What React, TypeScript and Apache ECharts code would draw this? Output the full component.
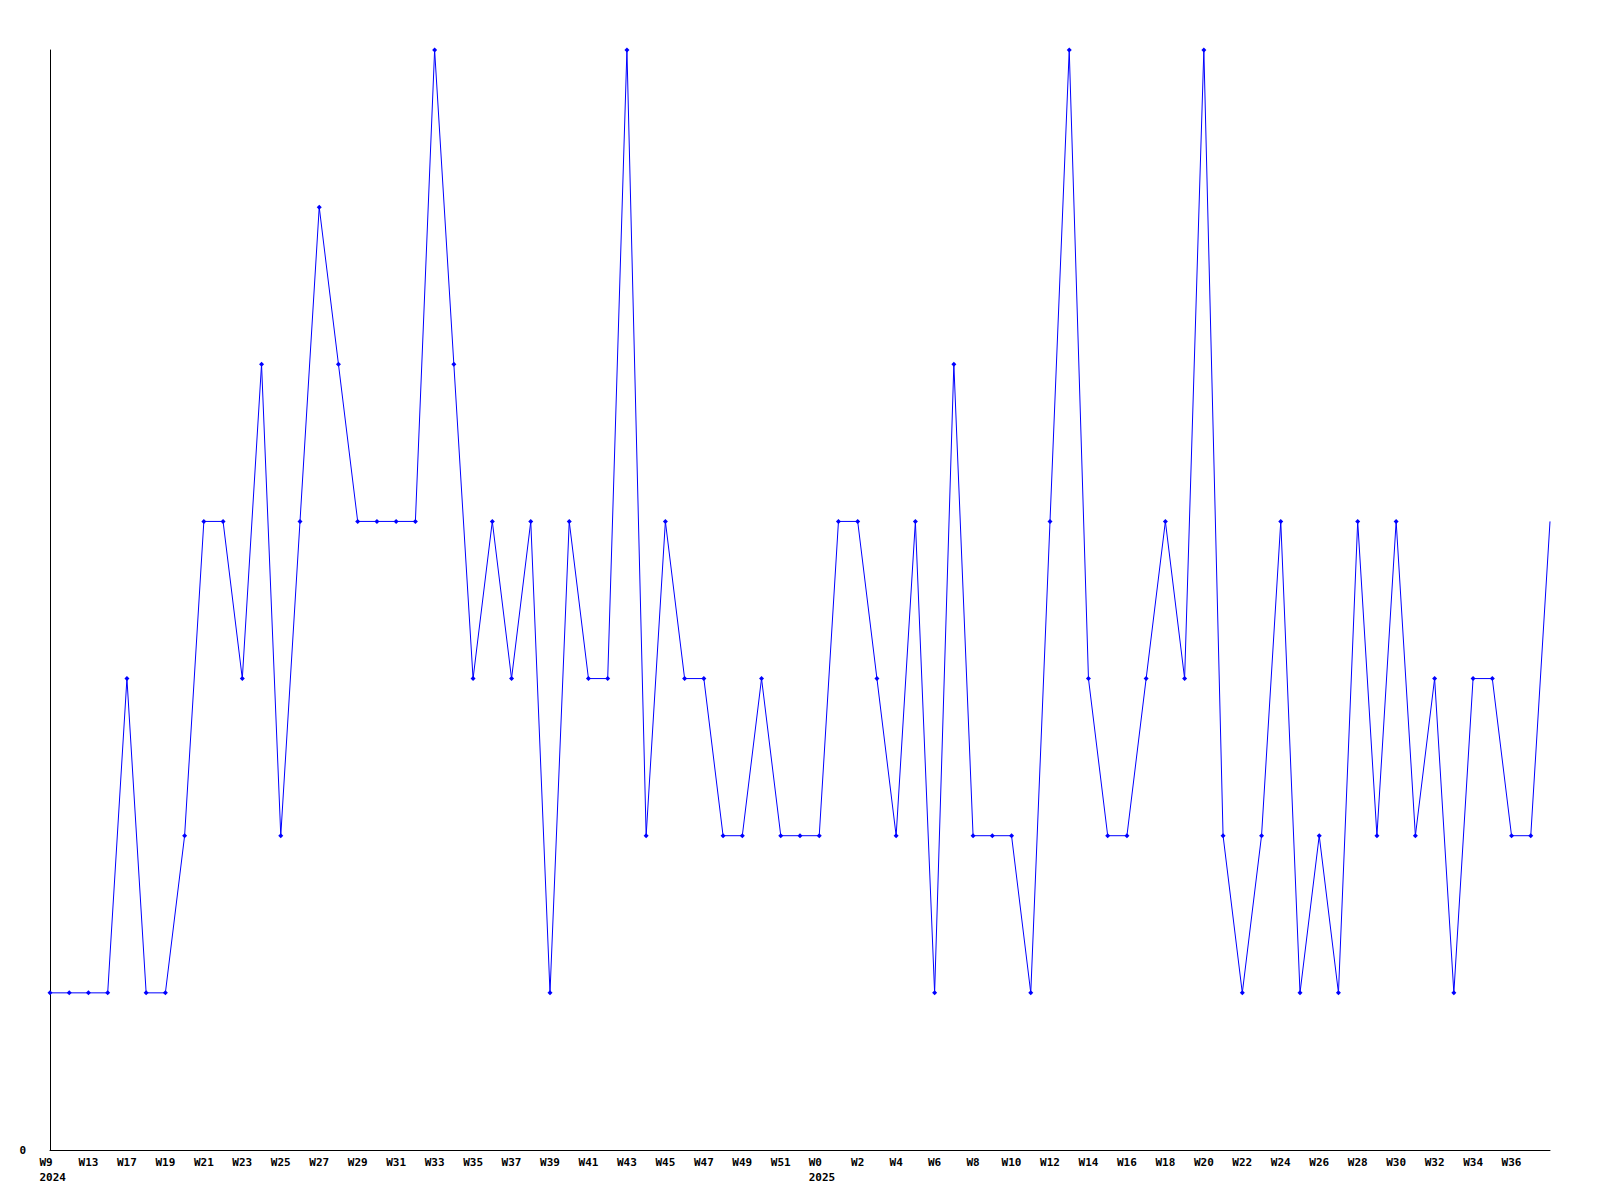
import React, { useEffect, useRef } from "react";
import * as echarts from "echarts";

const tickLabels = [
  "W9", "W13", "W17", "W19", "W21", "W23", "W25", "W27", "W29", "W31",
  "W33", "W35", "W37", "W39", "W41", "W43", "W45", "W47", "W49", "W51",
  "W0", "W2", "W4", "W6", "W8", "W10", "W12", "W14", "W16", "W18",
  "W20", "W22", "W24", "W26", "W28", "W30", "W32", "W34", "W36",
];
const yearLabels: Record<string, string> = { W9: "2024", W0: "2025" };

const values = [
  1, 1, 1, 1, 3, 1, 1, 2, 4, 4,
  3, 5, 2, 4, 6, 5, 4, 4, 4, 4,
  7, 5, 3, 4, 3, 4, 1, 4, 3, 3,
  7, 2, 4, 3, 3, 2, 2, 3, 2, 2,
  2, 4, 4, 3, 2, 4, 1, 5, 2, 2,
  2, 1, 4, 7, 3, 2, 2, 3, 4, 3,
  7, 2, 1, 2, 4, 1, 2, 1, 4, 2,
  4, 2, 3, 1, 3, 3, 2, 2, 4,
];

const yMin = 0;
const yMax = 7;

export default function App() {
  const ref = useRef<HTMLDivElement>(null);
  useEffect(() => {
    if (!ref.current) return;
    const chart = echarts.init(ref.current, undefined, { renderer: "svg" });
    const categories = values.map((_, i) => {
      if (i % 2 !== 0) return "";
      const lab = tickLabels[i / 2] ?? "";
      return yearLabels[lab] ? `{w|${lab}}\n{w|${yearLabels[lab]}}` : lab;
    });
    const data = values.map((v, i) =>
      i === values.length - 1 ? { value: v, symbol: "none" } : v
    );
    const font = "'DejaVu Sans Mono', monospace";
    chart.setOption({
      animation: false,
      backgroundColor: "#ffffff",
      grid: { left: 50, right: 50, top: 50, bottom: 50, containLabel: false },
      xAxis: {
        type: "category",
        data: categories,
        boundaryGap: false,
        axisLine: { lineStyle: { color: "#000", width: 1 } },
        axisTick: { show: false },
        splitLine: { show: false },
        axisLabel: {
          interval: 0,
          color: "#000",
          fontFamily: font,
          fontWeight: "bold",
          fontSize: 11,
          margin: 5,
          lineHeight: 15,
          rich: {
            w: {
              width: 27,
              align: "left",
              padding: [0, 0, 0, 6],
              fontFamily: font,
              fontWeight: "bold",
              fontSize: 11,
              color: "#000",
              lineHeight: 15,
            },
          },
        },
      },
      yAxis: {
        type: "value",
        min: yMin,
        max: yMax,
        interval: 7,
        axisLine: { show: true, lineStyle: { color: "#000", width: 1 } },
        axisTick: { show: false },
        splitLine: { show: false },
        axisLabel: {
          color: "#000",
          fontFamily: font,
          fontWeight: "bold",
          fontSize: 11,
          margin: 24,
          formatter: (v: number) => (v === 0 ? "0" : ""),
        },
      },
      series: [
        {
          type: "line",
          data,
          symbol: "diamond",
          symbolSize: 5,
          showAllSymbol: true,
          lineStyle: { color: "#0000ff", width: 1 },
          itemStyle: { color: "#0000ff" },
        },
      ],
    });
    return () => chart.dispose();
  }, []);
  return (
    <div
      ref={ref}
      style={{ position: "absolute", left: 0, top: 0, width: 1600, height: 1200 }}
    />
  );
}
